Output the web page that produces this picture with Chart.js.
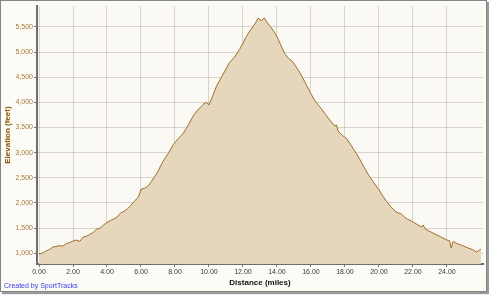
<!DOCTYPE html>
<html>
<head>
<meta charset="utf-8">
<script src="https://cdn.jsdelivr.net/npm/chart.js@4"></script>
<style>
  body { margin: 0; background: #ffffff; }
  #frame {
    position: absolute; left: 0; top: 0;
    width: 485px; height: 290px;
    border: 1px solid #858585;
    box-shadow: 2px 2px 1px #9a9a9a;
    background: #fcfbf6;
  }
  #credit {
    position: absolute; left: 3px; top: 281px;
    font: 7px "Liberation Sans", Arial, sans-serif;
    color: #3a3ae8;
  }
</style>
</head>
<body>
<div id="frame">
  <canvas id="chart" width="485" height="290"></canvas>
  <div id="credit">Created by SportTracks</div>
</div>
<script>
// distance in miles
const distance = [
  0.00, 0.20, 0.40, 0.60, 0.80, 1.00, 1.20, 1.40, 1.60, 1.80,
  2.00, 2.20, 2.40, 2.60, 2.80, 3.00, 3.20, 3.40, 3.60, 3.80,
  4.00, 4.20, 4.40, 4.60, 4.80, 5.00, 5.20, 5.40, 5.60, 5.80,
  5.90, 6.00, 6.20, 6.40, 6.60, 6.80, 7.00, 7.30, 7.60, 7.90,
  8.20, 8.50, 8.80, 9.10, 9.40, 9.70, 9.85, 10.00, 10.20, 10.45,
  10.80, 11.20, 11.50, 11.80, 12.00, 12.20, 12.40, 12.60, 12.75, 12.90,
  13.00, 13.10, 13.25, 13.40, 13.60, 13.80, 14.00, 14.20, 14.45, 14.70,
  14.90, 15.10, 15.35, 15.65, 15.95, 16.20, 16.40, 16.60, 16.85, 17.10,
  17.40, 17.50, 17.60, 17.85, 18.10, 18.35, 18.60, 18.85, 19.10, 19.40,
  19.70, 20.00, 20.20, 20.45, 20.70, 21.00, 21.30, 21.60, 21.90, 22.20,
  22.50, 22.60, 22.70, 23.00, 23.30, 23.60, 24.00, 24.15, 24.25, 24.35,
  24.60, 24.90, 25.20, 25.50, 25.75, 25.90, 26.00
];
// elevation in feet
const elevation = [
  980, 1000, 1040, 1070, 1120, 1130, 1150, 1140, 1190, 1210,
  1240, 1260, 1235, 1320, 1340, 1370, 1420, 1480, 1500, 1560,
  1610, 1650, 1680, 1720, 1800, 1830, 1880, 1950, 2030, 2100,
  2160, 2270, 2290, 2330, 2420, 2520, 2630, 2830, 2980, 3160,
  3280, 3390, 3560, 3750, 3870, 3970, 4000, 3950, 4110, 4330,
  4540, 4790, 4900, 5050, 5180, 5310, 5420, 5510, 5590, 5680,
  5640, 5630, 5680, 5600, 5510, 5420, 5310, 5160, 4970, 4870,
  4820, 4720, 4590, 4400, 4200, 4050, 3960, 3880, 3760, 3650,
  3530, 3550, 3430, 3340, 3280, 3150, 3020, 2880, 2720, 2550,
  2400, 2260, 2150, 2030, 1920, 1820, 1780, 1690, 1640, 1580,
  1520, 1560, 1490, 1430, 1380, 1330, 1260, 1250, 1100, 1230,
  1190, 1150, 1110, 1070, 1020, 1060, 1080
];
const xTicks = [0, 2, 4, 6, 8, 10, 12, 14, 16, 18, 20, 22, 24];
const yTicks = [1000, 1500, 2000, 2500, 3000, 3500, 4000, 4500, 5000, 5500];

const points = distance.map((d, i) => ({ x: d, y: elevation[i] }));

const plotBg = {
  id: 'plotBg',
  beforeDraw(chart) {
    const { ctx, chartArea: a } = chart;
    ctx.save();
    ctx.fillStyle = '#fbf9f3';
    ctx.fillRect(a.left, a.top, a.right - a.left, a.bottom - a.top);
    ctx.restore();
  }
};

const ctx = document.getElementById('chart').getContext('2d');
new Chart(ctx, {
  type: 'line',
  data: {
    datasets: [{
      data: points,
      borderColor: '#9c6f2b',
      borderWidth: 1,
      backgroundColor: '#e6d6bc',
      fill: 'start',
      pointRadius: 0,
      tension: 0
    }]
  },
  options: {
    responsive: false,
    animation: false,
    layout: { padding: { top: 2, right: 3, left: 0, bottom: 0 } },
    plugins: { legend: { display: false }, tooltip: { enabled: false } },
    scales: {
      x: {
        type: 'linear',
        min: -0.118,
        max: 26.12,
        z: 1,
        afterBuildTicks: (scale) => { scale.ticks = xTicks.map(v => ({ value: v })); },
        afterFit: (scale) => { scale.height = 27; },
        grid: { color: 'rgba(80,80,70,0.22)', tickLength: 3, tickColor: '#777' },
        border: { color: '#6e6e6e', width: 2 },
        ticks: {
          autoSkip: false, maxRotation: 0, padding: 1,
          color: '#3a3a3a',
          font: { family: 'Liberation Sans', size: 7 },
          callback: (v) => Number(v).toFixed(2)
        },
        title: {
          display: true, text: 'Distance (miles)', color: '#111',
          padding: { top: 0, bottom: 3 },
          font: { family: 'Liberation Sans', size: 8, weight: 'bold' }
        }
      },
      y: {
        min: 784,
        max: 5913,
        z: 1,
        afterBuildTicks: (scale) => { scale.ticks = yTicks.map(v => ({ value: v })); },
        afterFit: (scale) => { scale.width = 36; },
        grid: { color: 'rgba(80,80,70,0.22)', tickLength: 3, tickColor: '#777' },
        border: { color: '#6e6e6e', width: 2 },
        ticks: {
          autoSkip: false, padding: 1,
          color: '#a47a3a',
          font: { family: 'Liberation Sans', size: 7 },
          callback: (v) => Number(v).toLocaleString('en-US')
        },
        title: {
          display: true, text: 'Elevation (feet)', color: '#8a5200',
          padding: { top: 2, bottom: 0 },
          font: { family: 'Liberation Sans', size: 8, weight: 'bold' }
        }
      }
    }
  },
  plugins: [plotBg]
});
</script>
</body>
</html>
